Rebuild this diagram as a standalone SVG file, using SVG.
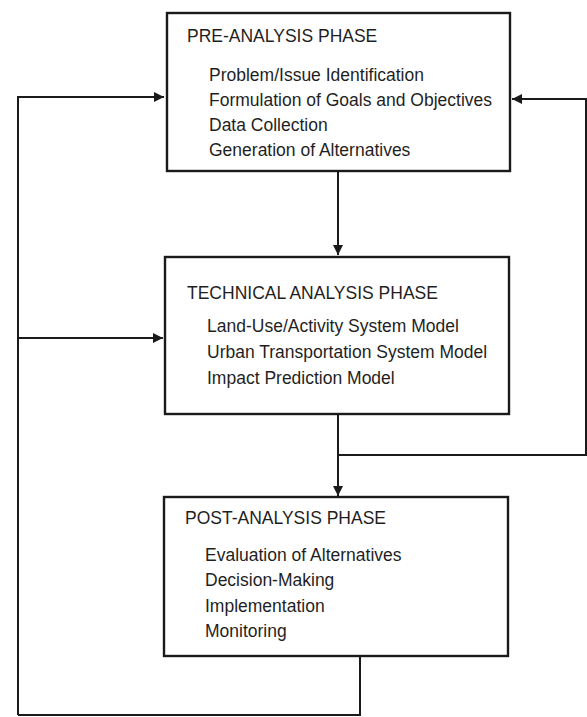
<svg xmlns="http://www.w3.org/2000/svg" width="587" height="717" viewBox="0 0 587 717">
<style>
.box{fill:#fff;stroke:#1a1a1a;stroke-width:2.4}
.t{font-family:"Liberation Sans",Arial,sans-serif;font-size:17.5px;fill:#1f1f1f}
.c{fill:none;stroke:#1a1a1a;stroke-width:2}
</style>
<defs>
<marker id="ah" viewBox="0 0 10 10" refX="10" refY="5" markerWidth="5" markerHeight="5" orient="auto" markerUnits="strokeWidth">
<path d="M0,0 L10,5 L0,10 z" fill="#1a1a1a"/>
</marker>
</defs>
<rect width="587" height="717" fill="#fff"/>
<g id="connectors">
<path class="c" d="M18,715 L18,97 L164,97" marker-end="url(#ah)"/>
<path class="c" d="M18,338 L163,338" marker-end="url(#ah)"/>
<path class="c" d="M338,172 L338,255" marker-end="url(#ah)"/>
<path class="c" d="M338,414 L338,496" marker-end="url(#ah)"/>
<path class="c" d="M338,455 L586,455 L586,99 L512,99" marker-end="url(#ah)"/>
<path class="c" d="M360,656 L360,715 L18,715"/>
</g>
<g id="pre-analysis">
<rect class="box" x="167" y="13" width="343" height="158"/>
<text class="t" x="187" y="42">PRE-ANALYSIS PHASE</text>
<text class="t" x="209" y="81">Problem/Issue Identification</text>
<text class="t" x="209" y="106">Formulation of Goals and Objectives</text>
<text class="t" x="209" y="131">Data Collection</text>
<text class="t" x="209" y="156">Generation of Alternatives</text>
</g>
<g id="technical-analysis">
<rect class="box" x="165" y="257" width="344" height="157"/>
<text class="t" x="187" y="299">TECHNICAL ANALYSIS PHASE</text>
<text class="t" x="207" y="332">Land-Use/Activity System Model</text>
<text class="t" x="207" y="358">Urban Transportation System Model</text>
<text class="t" x="207" y="384">Impact Prediction Model</text>
</g>
<g id="post-analysis">
<rect class="box" x="164" y="497" width="344" height="159"/>
<text class="t" x="185" y="524">POST-ANALYSIS PHASE</text>
<text class="t" x="205" y="561">Evaluation of Alternatives</text>
<text class="t" x="205" y="586">Decision-Making</text>
<text class="t" x="205" y="612">Implementation</text>
<text class="t" x="205" y="637">Monitoring</text>
</g>
</svg>
